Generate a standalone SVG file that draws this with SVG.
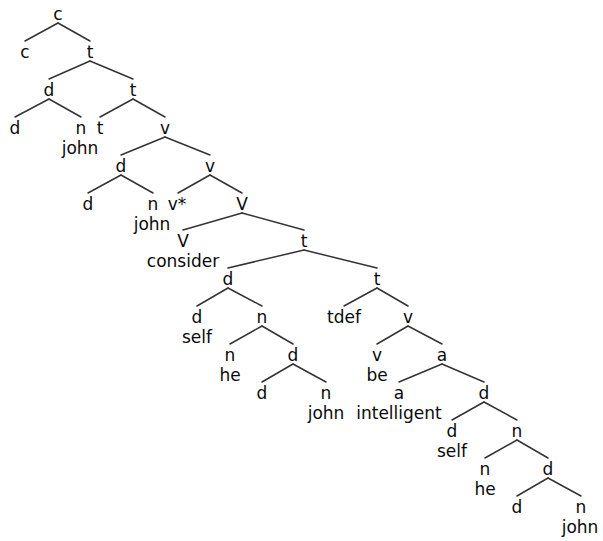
<svg xmlns="http://www.w3.org/2000/svg" width="603" height="541" viewBox="0 0 603 541">
<style>
text{font-family:"DejaVu Sans","Liberation Sans",sans-serif;font-size:17px;fill:#0a0a0a;text-anchor:middle}
.e line{stroke:#333;stroke-width:1.5;stroke-linecap:round}
</style>
<rect width="603" height="541" fill="#fff"/>
<g id="connectors" class="e">
<line x1="58" y1="23" x2="25" y2="41"/>
<line x1="58" y1="23" x2="90" y2="41"/>
<line x1="90" y1="61" x2="49" y2="79"/>
<line x1="90" y1="61" x2="133" y2="79"/>
<line x1="49" y1="99" x2="15" y2="117"/>
<line x1="49" y1="99" x2="81" y2="117"/>
<line x1="133" y1="99" x2="100" y2="117"/>
<line x1="133" y1="99" x2="165" y2="117"/>
<line x1="165" y1="137" x2="121" y2="155"/>
<line x1="165" y1="137" x2="210" y2="155"/>
<line x1="121" y1="175" x2="88" y2="193"/>
<line x1="121" y1="175" x2="153" y2="193"/>
<line x1="210" y1="175" x2="178" y2="193"/>
<line x1="210" y1="175" x2="242" y2="193"/>
<line x1="242" y1="213" x2="183" y2="230"/>
<line x1="242" y1="213" x2="304" y2="230"/>
<line x1="304" y1="250" x2="228" y2="268"/>
<line x1="304" y1="250" x2="377" y2="268"/>
<line x1="228" y1="288" x2="197" y2="306"/>
<line x1="228" y1="288" x2="262" y2="306"/>
<line x1="262" y1="326" x2="230" y2="344"/>
<line x1="262" y1="326" x2="293" y2="344"/>
<line x1="293" y1="364" x2="262" y2="382"/>
<line x1="293" y1="364" x2="326" y2="382"/>
<line x1="377" y1="288" x2="344" y2="306"/>
<line x1="377" y1="288" x2="408" y2="306"/>
<line x1="408" y1="326" x2="377" y2="344"/>
<line x1="408" y1="326" x2="442" y2="344"/>
<line x1="442" y1="364" x2="399" y2="382"/>
<line x1="442" y1="364" x2="484" y2="382"/>
<line x1="484" y1="402" x2="452" y2="420"/>
<line x1="484" y1="402" x2="517" y2="420"/>
<line x1="517" y1="440" x2="485" y2="458"/>
<line x1="517" y1="440" x2="548" y2="458"/>
<line x1="548" y1="478" x2="517" y2="496"/>
<line x1="548" y1="478" x2="581" y2="496"/>
</g>
<g id="n0"><text x="58" y="20">c</text></g>
<g id="n1"><text x="25" y="58">c</text></g>
<g id="n2"><text x="90" y="58">t</text></g>
<g id="n3"><text x="49" y="96">d</text></g>
<g id="n4"><text x="133" y="96">t</text></g>
<g id="n5"><text x="15" y="134">d</text></g>
<g id="n6"><text x="81" y="134">n</text><text x="80" y="154">john</text></g>
<g id="n7"><text x="100" y="134">t</text></g>
<g id="n8"><text x="165" y="134">v</text></g>
<g id="n9"><text x="121" y="172">d</text></g>
<g id="n10"><text x="210" y="172">v</text></g>
<g id="n11"><text x="88" y="210">d</text></g>
<g id="n12"><text x="153" y="210">n</text><text x="152" y="230">john</text></g>
<g id="n13"><text x="177" y="210">v*</text></g>
<g id="n14"><text x="242" y="210">V</text></g>
<g id="n15"><text x="183" y="247">V</text><text x="183" y="267">consider</text></g>
<g id="n16"><text x="304" y="247">t</text></g>
<g id="n17"><text x="228" y="285">d</text></g>
<g id="n18"><text x="377" y="285">t</text></g>
<g id="n19"><text x="197" y="323">d</text><text x="197" y="343">self</text></g>
<g id="n20"><text x="262" y="323">n</text></g>
<g id="n21"><text x="344" y="323">tdef</text></g>
<g id="n22"><text x="408" y="323">v</text></g>
<g id="n23"><text x="230" y="361">n</text><text x="230" y="381">he</text></g>
<g id="n24"><text x="293" y="361">d</text></g>
<g id="n25"><text x="377" y="361">v</text><text x="377" y="381">be</text></g>
<g id="n26"><text x="442" y="361">a</text></g>
<g id="n27"><text x="262" y="399">d</text></g>
<g id="n28"><text x="326" y="399">n</text><text x="326" y="419">john</text></g>
<g id="n29"><text x="399" y="399">a</text><text x="399" y="419">intelligent</text></g>
<g id="n30"><text x="484" y="399">d</text></g>
<g id="n31"><text x="452" y="437">d</text><text x="452" y="457">self</text></g>
<g id="n32"><text x="517" y="437">n</text></g>
<g id="n33"><text x="485" y="475">n</text><text x="485" y="495">he</text></g>
<g id="n34"><text x="548" y="475">d</text></g>
<g id="n35"><text x="517" y="513">d</text></g>
<g id="n36"><text x="581" y="513">n</text><text x="580" y="533">john</text></g>
</svg>
